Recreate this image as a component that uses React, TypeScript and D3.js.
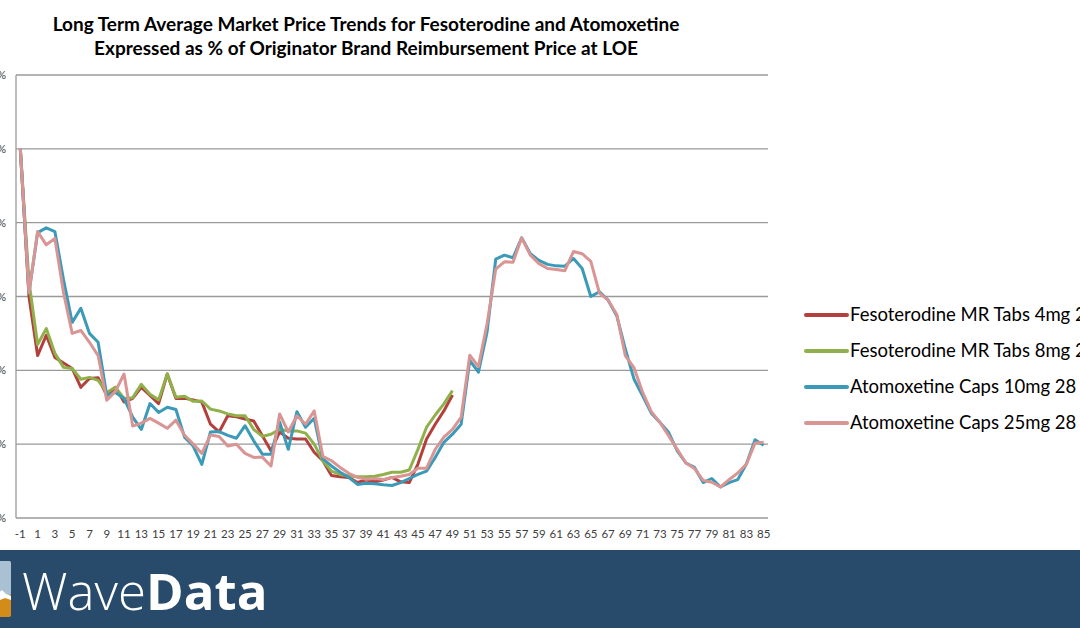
import React from "react";
import * as d3 from "d3";

const categories: number[] = d3.range(-1, 86);
const xTickLabels: number[] = d3.range(-1, 86, 2);
const yTicks: number[] = [0, 20, 40, 60, 80, 100, 120];

const feso4: number[] = [100, 60, 44, 49.5, 43.5, 42, 40.5, 35.4, 37.8, 38, 33.2, 35.4, 31.4, 32.4, 35.4, 33.2, 31, 39, 32.4, 32.4, 32, 31.4, 25.4, 23.3, 27.7, 27.4, 26.8, 26.3, 22.3, 18.2, 23.3, 21.6, 21.4, 21.4, 17.8, 15.5, 11.5, 11.2, 11, 9.6, 10.3, 9.8, 10.3, 11, 9.8, 9.6, 14.6, 21.4, 25.4, 29, 33.3];
const feso8: number[] = [100, 64, 47, 51.3, 44.6, 40.8, 40.5, 37.6, 38.1, 37.3, 34, 35.4, 32.4, 32.6, 36.2, 33.5, 32, 39, 32.7, 33, 31.6, 31.7, 29.5, 29, 28.2, 27.7, 27.7, 24, 22.1, 22.7, 24, 23.6, 23.6, 23, 20, 15.5, 12.7, 11.8, 11.4, 11.2, 11.2, 11.3, 11.8, 12.4, 12.4, 13, 18.6, 24.6, 27.9, 30.9, 34.5];
const atomo10: number[] = [100, 61, 77.3, 78.6, 77.6, 64.5, 53, 56.8, 50, 47.6, 33.2, 34, 32.4, 27.3, 24, 31, 28.6, 30, 29.4, 21.9, 19.5, 14.5, 23.3, 23.4, 22.4, 21.6, 25, 20.9, 17.3, 17.3, 26, 18.6, 28.8, 24.6, 27, 16, 14.1, 12.4, 11, 9.1, 9.4, 9.3, 9, 8.8, 9.6, 10.7, 11.8, 12.7, 16.4, 20.5, 22.7, 25.4, 42.7, 39.5, 50.4, 70.1, 71.2, 70.5, 75.9, 71.6, 69.8, 68.7, 68.3, 68.2, 70.3, 67.6, 60, 61.3, 59, 54.8, 45.7, 37.6, 33.1, 28.4, 25.9, 23.2, 18.2, 14.9, 13.7, 9.6, 10.7, 8.4, 9.6, 10.4, 14.6, 21.2, 19.7];
const atomo25: number[] = [100, 61, 77.6, 74, 75.7, 61, 50, 50.8, 47.6, 44, 31.9, 34.3, 39, 24.9, 25.7, 27, 25.7, 24.3, 26.5, 22.4, 20, 17.5, 22.5, 22.1, 19.5, 20, 17.5, 16.4, 16.5, 14.1, 28.2, 23.3, 27.7, 25.4, 29, 16.7, 15.5, 13.7, 12.1, 11, 10.5, 10.7, 10.4, 11, 11.3, 11.8, 13.5, 13.5, 18.6, 21.9, 24, 27.3, 44.1, 41, 52.6, 67.4, 69.4, 69.3, 75.9, 71.2, 68.9, 67.6, 67.3, 67, 72.2, 71.6, 69.5, 60.9, 59, 55.2, 43.9, 40.7, 34, 28.8, 25.9, 22.3, 18.6, 14.9, 13.4, 10.2, 9.7, 8.4, 10.4, 12.2, 14.6, 20.3, 20.5];

const seriesNames: string[] = [
  "Fesoterodine MR Tabs 4mg 28",
  "Fesoterodine MR Tabs 8mg 28",
  "Atomoxetine Caps 10mg 28",
  "Atomoxetine Caps 25mg 28",
];
const seriesColors: string[] = ["#b3403d", "#8fb04a", "#3a9ab8", "#d99593"];
const seriesData: number[][] = [feso4, feso8, atomo10, atomo25];

const titleLines: string[] = [
  "Long Term Average Market Price Trends for Fesoterodine and Atomoxetine",
  "Expressed as % of Originator Brand Reimbursement Price at LOE",
];

export default function App() {
  const W = 1080;
  const H = 628;
  const left = 16;
  const right = 768;
  const top = 75;
  const bottom = 518;

  const x = d3
    .scaleBand<number>()
    .domain(categories)
    .range([left, right]);
  const xc = (c: number) => (x(c) as number) + x.bandwidth() / 2;
  const y = d3.scaleLinear().domain([0, 120]).range([bottom, top]);

  const line = d3
    .line<number>()
    .x((_, i) => xc(categories[i]))
    .y((v) => y(v));

  const font = "Lato, 'Open Sans', sans-serif";

  return (
    <svg
      width={W}
      height={H}
      style={{ position: "absolute", left: 0, top: 0, background: "#fff" }}
    >
      <rect x={0} y={0} width={W} height={H} fill="#fff" />
      {titleLines.map((t, i) => (
        <text
          key={i}
          x={366}
          y={31 + i * 24}
          textAnchor="middle"
          fontFamily={font}
          fontWeight={700}
          fontSize={19}
          fill="#000"
        >
          {t}
        </text>
      ))}
      {yTicks.map((t) => (
        <g key={t}>
          <line
            x1={left}
            x2={right}
            y1={y(t)}
            y2={y(t)}
            stroke="#9a9a9a"
            strokeWidth={1.3}
          />
          <text
            x={6}
            y={y(t) + 4}
            textAnchor="end"
            fontFamily={font}
            fontSize={11}
            fill="#404040"
          >
            {t}%
          </text>
        </g>
      ))}
      <line x1={left} x2={left} y1={top} y2={bottom} stroke="#9a9a9a" strokeWidth={1.3} />
      {xTickLabels.map((c) => (
        <text
          key={c}
          x={xc(c)}
          y={538}
          textAnchor="middle"
          fontFamily={font}
          fontSize={11.5}
          fill="#404040"
        >
          {c}
        </text>
      ))}
      {seriesData.map((d, i) => (
        <path
          key={i}
          d={line(d) || ""}
          fill="none"
          stroke={seriesColors[i]}
          strokeWidth={3}
          strokeLinejoin="round"
        />
      ))}
      {seriesNames.map((n, i) => (
        <g key={n}>
          <line
            x1={806}
            x2={847}
            y1={315 + i * 36}
            y2={315 + i * 36}
            stroke={seriesColors[i]}
            strokeWidth={4}
            strokeLinecap="round"
          />
          <text
            x={850}
            y={321 + i * 36}
            fontFamily={font}
            fontSize={18.5}
            fill="#000"
          >
            {n}
          </text>
        </g>
      ))}
      <rect x={0} y={550} width={W} height={78} fill="#284a6b" />
      <g>
        <rect x={-6} y={561} width={17} height={56} rx={2} fill="#d38b1a" />
        <rect x={-6} y={561} width={17} height={34} rx={2} fill="#a9c1d3" />
        <path d="M-6,597 L2,590 L6,594 L11,596 L11,600 L5,598 L0,600 L-6,603 Z" fill="#ffffff" />
      </g>
      <text x={22} y={610} fontFamily="'Open Sans', sans-serif" fontSize={51} fill="#fff">
        <tspan fontWeight={300}>Wave</tspan>
        <tspan fontWeight={700}>Data</tspan>
      </text>
    </svg>
  );
}
